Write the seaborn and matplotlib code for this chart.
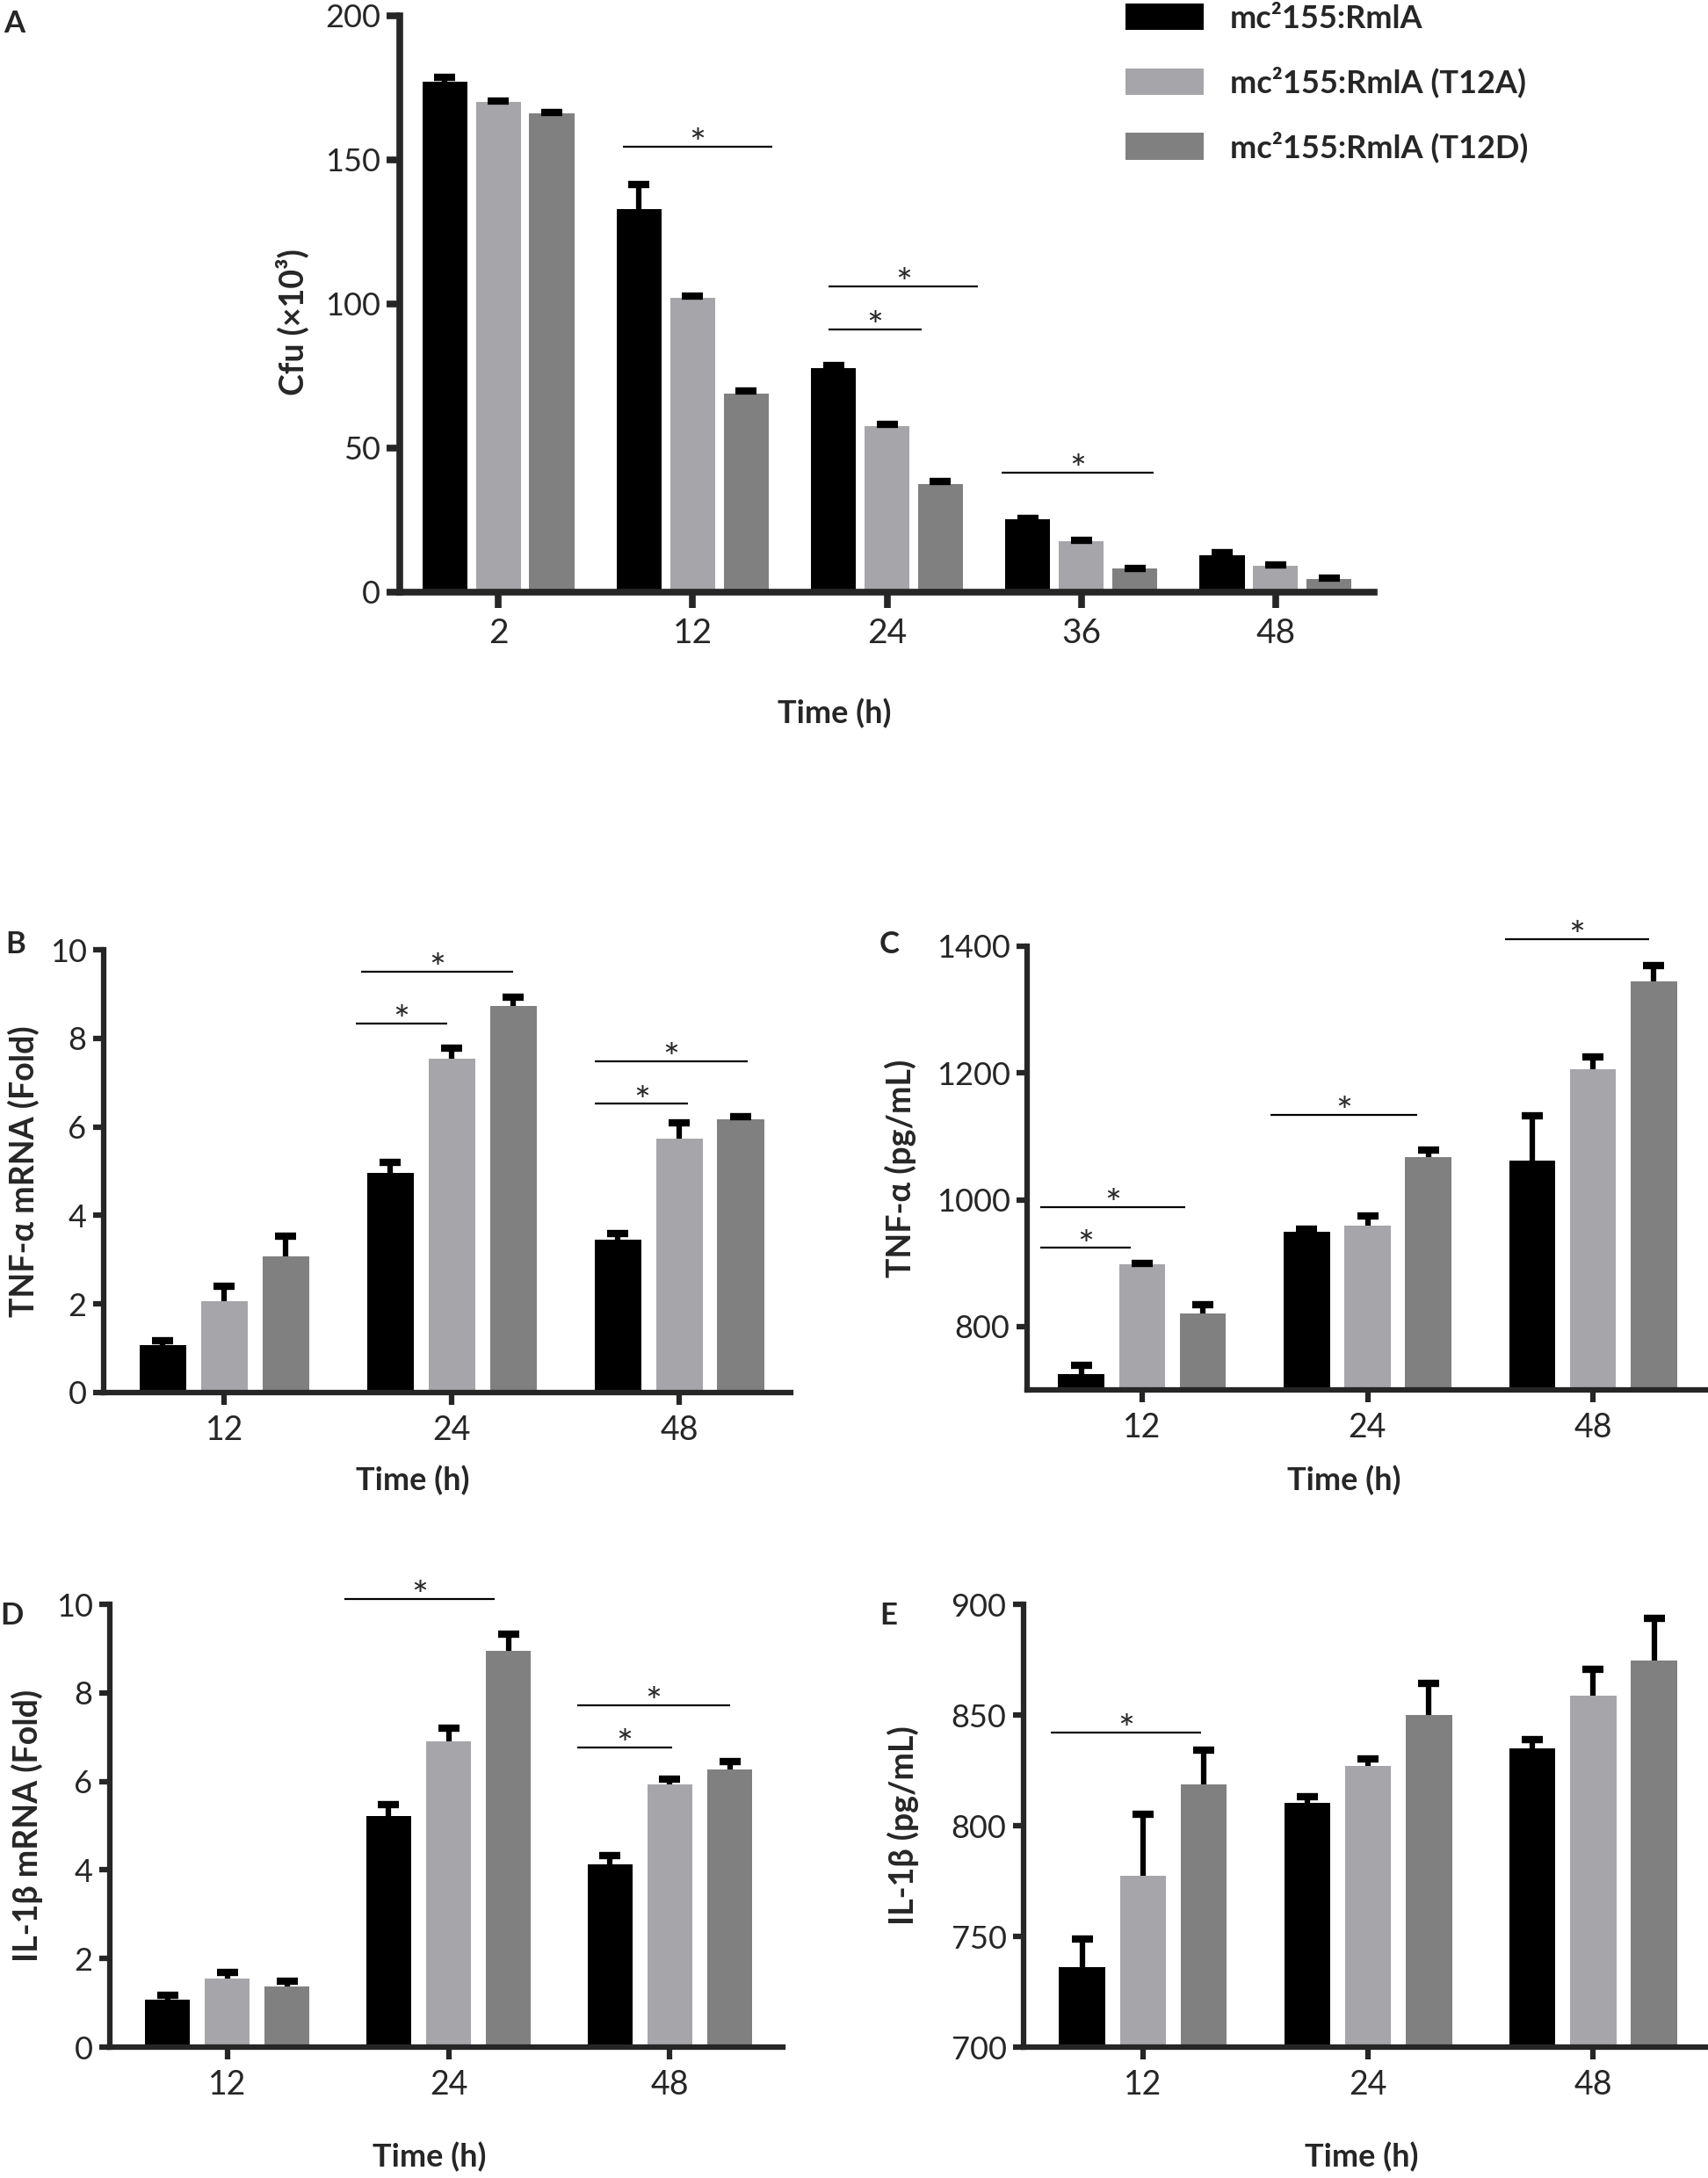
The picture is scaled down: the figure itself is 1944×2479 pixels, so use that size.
import numpy as np
import pandas as pd
import matplotlib
matplotlib.use("Agg")
import matplotlib.pyplot as plt
import seaborn as sns

# ---------------- data ----------------
strains = ["mc²155:RmlA", "mc²155:RmlA (T12A)", "mc²155:RmlA (T12D)"]
bar_colors = ["#000000", "#a6a6aa", "#808080"]

# panel A : Cfu (x10^3)
a_times = ["2", "12", "24", "36", "48"]
a_wt = [177.1, 133.0, 77.6, 25.2, 12.8]
a_t12a = [170.2, 102.2, 57.6, 17.8, 9.0]
a_t12d = [166.2, 69.0, 37.4, 8.1, 4.5]
a_wt_err = [1.6, 8.5, 1.2, 0.5, 1.0]
a_t12a_err = [0.3, 0.5, 0.6, 0.3, 0.3]
a_t12d_err = [0.3, 0.8, 1.0, 0.2, 0.3]

times = ["12", "24", "48"]

# panel B : TNF-a mRNA (fold)
b_wt = [1.07, 4.97, 3.45]
b_t12a = [2.07, 7.54, 5.74]
b_t12d = [3.07, 8.74, 6.18]
b_wt_err = [0.10, 0.23, 0.15]
b_t12a_err = [0.33, 0.24, 0.36]
b_t12d_err = [0.47, 0.18, 0.06]

# panel C : TNF-a (pg/mL)
c_wt = [725.5, 949, 1062]
c_t12a = [898, 959, 1206]
c_t12d = [820.5, 1068, 1344]
c_wt_err = [14, 5, 70]
c_t12a_err = [1, 15, 19]
c_t12d_err = [14, 11, 26]

# panel D : IL-1b mRNA (fold)
d_wt = [1.07, 5.21, 4.13]
d_t12a = [1.54, 6.90, 5.94]
d_t12d = [1.36, 8.94, 6.27]
d_wt_err = [0.10, 0.26, 0.20]
d_t12a_err = [0.15, 0.30, 0.12]
d_t12d_err = [0.13, 0.38, 0.18]

# panel E : IL-1b (pg/mL)
e_wt = [736.0, 810.4, 834.8]
e_t12a = [777.3, 827.1, 858.8]
e_t12d = [818.7, 849.9, 874.8]
e_wt_err = [13, 2.5, 4]
e_t12a_err = [28, 3.2, 12]
e_t12d_err = [15.5, 14.5, 19]

# significance bars: (group, start offset, end offset, y)
a_sig = [(1, -0.36, 0.41, 154.6), (2, -0.30, 0.47, 106.1),
         (2, -0.30, 0.18, 91.3), (3, -0.41, 0.37, 41.5)]
b_sig = [(1, -0.40, 0.27, 9.5), (1, -0.42, -0.02, 8.34),
         (2, -0.37, 0.30, 7.48), (2, -0.37, 0.04, 6.52)]
c_sig = [(0, -0.45, 0.19, 988), (0, -0.45, -0.05, 924),
         (1, -0.43, 0.22, 1134), (2, -0.39, 0.25, 1411)]
d_sig = [(1, -0.47, 0.21, 10.12), (2, -0.42, 0.27, 7.72),
         (2, -0.42, 0.01, 6.76)]
e_sig = [(0, -0.41, 0.26, 842.2)]

# ---------------- style ----------------
sns.set_style("ticks")
plt.rcParams["font.family"] = ["Lato", "DejaVu Sans"]

W, H = 1944, 2479
fig = plt.figure(figsize=(W / 100, H / 100), dpi=100)


def box(left, top, right, bottom):
    return [left / W, 1 - bottom / H, (right - left) / W, (bottom - top) / H]


def long_table(cats, series):
    rows = []
    for name, vals in zip(strains, series):
        for c, v in zip(cats, vals):
            rows.append({"time": c, "strain": name, "value": v})
    return pd.DataFrame(rows)


def panel(pos, cats, series, errs, sig, ylim, yticks, xlim, ylabel,
          xlab_xy, ylab_x, letter, letter_xy, gap=0.24, width=0.81,
          spine_w=4.5, xt_size=27, yt_size=26, xtick_len=10, ytick_len=9,
          legend=False):
    ax = fig.add_axes(box(*pos))
    df = long_table(cats, series)
    sns.barplot(data=df, x="time", y="value", hue="strain", order=cats,
                hue_order=strains, palette=bar_colors, width=width, gap=gap,
                errorbar=None, linewidth=0, saturation=1, legend=legend, ax=ax)

    # one-sided error bars (upper only) with heavy caps
    for cont, err in zip(ax.containers, errs):
        xs = [p.get_x() + p.get_width() / 2 for p in cont.patches]
        hs = [p.get_height() for p in cont.patches]
        _, caps, _ = ax.errorbar(xs, hs, yerr=[np.zeros(len(err)), err],
                                 fmt="none", ecolor="black", elinewidth=4.5,
                                 capsize=8.5, capthick=6, zorder=3,
                                 clip_on=False)
        caps[0].set_visible(False)

    # significance lines
    for g, s0, s1, y in sig:
        ax.plot([g + s0, g + s1], [y, y], color="black", lw=1.6,
                clip_on=False, solid_capstyle="butt")
        ax.annotate("*", xy=(g + (s0 + s1) / 2, y), xytext=(0, -8),
                    textcoords="offset points", ha="center", va="baseline",
                    fontsize=32, annotation_clip=False)

    ax.set_xlim(*xlim)
    ax.set_ylim(*ylim)
    ax.set_yticks(yticks)
    ax.set_yticklabels([str(t) for t in yticks])
    sns.despine(ax=ax)
    for side in ["left", "bottom"]:
        ax.spines[side].set_linewidth(spine_w)
    ax.tick_params(axis="x", length=xtick_len, width=spine_w, labelsize=xt_size,
                   pad=8, direction="out")
    ax.tick_params(axis="y", length=ytick_len, width=spine_w, labelsize=yt_size,
                   pad=5, direction="out")

    ax.set_xlabel("Time (h)", fontsize=26, fontweight="bold")
    ax.xaxis.set_label_coords(*xlab_xy)
    ax.xaxis.label.set_va("top")
    ax.set_ylabel(ylabel, fontsize=27, fontweight="bold")
    ax.yaxis.label.set_va("center")
    ax.yaxis.set_label_coords(ylab_x, 0.5)

    fig.text(letter_xy[0] / W, 1 - letter_xy[1] / H, letter, fontsize=25,
             fontweight="bold", va="baseline", ha="left")
    return ax


# panel A
axA = panel((455, 18, 1564, 674), a_times,
            [a_wt, a_t12a, a_t12d], [a_wt_err, a_t12a_err, a_t12d_err], a_sig,
            (0, 200), [0, 50, 100, 150, 200], (-0.507, 4.507),
            "Cfu (×10³)", (0.446, -0.184), -0.11, "A", (4, 37),
            gap=0.16, width=0.825, spine_w=5.5, xt_size=28, yt_size=26,
            xtick_len=13, ytick_len=11, legend=True)
handles, labels = axA.get_legend_handles_labels()
axA.legend(handles, labels, loc="upper left",
           bbox_to_anchor=(1281 / W, 1 - 4 / H), bbox_transform=fig.transFigure,
           frameon=False, prop={"size": 26, "weight": "bold"},
           handlelength=89 / 36.1, handleheight=33 / 36.1,
           handletextpad=30 / 36.1, labelspacing=1.05,
           borderpad=0, borderaxespad=0)
axA.yaxis.set_label_coords(-0.11, 0.468)

# panel B
panel((118, 1081, 900, 1585), times, [b_wt, b_t12a, b_t12d],
      [b_wt_err, b_t12a_err, b_t12d_err], b_sig,
      (0, 10), [0, 2, 4, 6, 8, 10], (-0.53, 2.49),
      "TNF-α mRNA (Fold)", (0.45, -0.165), -0.116, "B", (6, 1085))

# panel C
panel((1169, 1077, 1944, 1582), times, [c_wt, c_t12a, c_t12d],
      [c_wt_err, c_t12a_err, c_t12d_err], c_sig,
      (700, 1400), [800, 1000, 1200, 1400], (-0.51, 2.51),
      "TNF-α (pg/mL)", (0.465, -0.17), -0.186, "C", (1001, 1085))

# panel D
panel((125, 1826, 891, 2330), times, [d_wt, d_t12a, d_t12d],
      [d_wt_err, d_t12a_err, d_t12d_err], d_sig,
      (0, 10), [0, 2, 4, 6, 8, 10], (-0.53, 2.51),
      "IL-1β mRNA (Fold)", (0.475, -0.214), -0.123, "D", (0, 1849))

# panel E
panel((1165, 1826, 1944, 2330), times, [e_wt, e_t12a, e_t12d],
      [e_wt_err, e_t12a_err, e_t12d_err], e_sig,
      (700, 900), [700, 750, 800, 850, 900], (-0.53, 2.51),
      "IL-1β (pg/mL)", (0.494, -0.214), -0.176, "E", (1001, 1849))

fig.savefig("out.png", dpi=100)
